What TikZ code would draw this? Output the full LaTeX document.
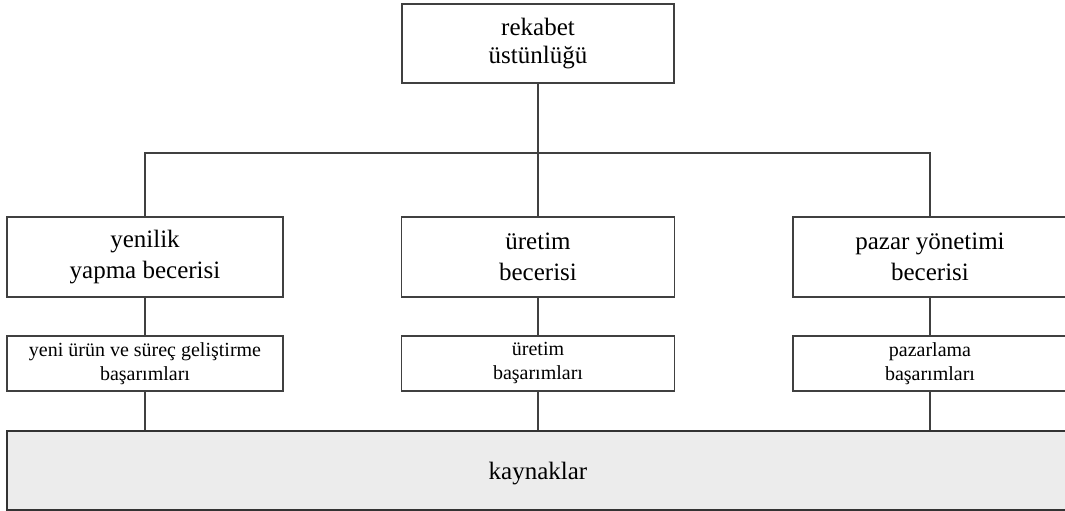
\documentclass[tikz,border=0pt]{standalone}
\usepackage{fontspec}
\setmainfont{Liberation Serif}
\usepackage{tikz}
\usetikzlibrary{positioning, calc}

\begin{document}
\begin{tikzpicture}[x=1pt, y=-1pt,
    line width=1.1pt, draw=black!75,
    bigbox/.style={draw=black!75, line width=1.1pt, minimum height=80pt, align=center,
        font=\fontsize{25}{31}\selectfont, execute at begin node={\rule{0pt}{26.5pt}}},
    smallbox/.style={draw=black!75, line width=1.1pt, minimum height=55pt, align=center,
        font=\fontsize{20}{24}\selectfont},
    basebox/.style={draw=black!80, line width=1.1pt, fill=gray!15, minimum height=79pt,
        font=\fontsize{25}{30}\selectfont, execute at begin node={\rule{0pt}{22.5pt}}}]
\useasboundingbox (0,0) rectangle (1065,511);

% Top
\node[bigbox, minimum width=272pt, minimum height=79pt, font=\fontsize{25}{28}\selectfont]
    (rekabet) at (538, 43.5) {rekabet\\üstünlüğü};

% Skills
\node[bigbox, minimum width=276pt] (yenilik) at (145, 257) {yenilik\\yapma becerisi};
\node[bigbox, minimum width=273pt] (uretim) at (538, 257) {üretim\\becerisi};
\node[bigbox, minimum width=274pt] (pazar) at (930, 257) {pazar yönetimi\\becerisi};

% Achievements
\node[smallbox, minimum width=276pt] (yenibas) at (145, 363.5) {yeni ürün ve süreç geliştirme\\başarımları};
\node[smallbox, minimum width=273pt] (uretbas) at (538, 363.5) {üretim\\başarımları};
\node[smallbox, minimum width=274pt] (pazbas) at (930, 363.5) {pazarlama\\başarımları};

% Resources
\node[basebox, minimum width=1062pt] (kaynak) at (538, 470.5) {kaynaklar};

% Connectors
\coordinate (bus) at (rekabet.south |- 0,153);
\draw (rekabet.south) -- (bus);
\draw (yenilik.north) |- (bus) -| (pazar.north);
\draw (bus) -- (bus |- uretim.north);
\draw (yenilik) -- (yenibas);
\draw (uretim) -- (uretbas);
\draw (pazar) -- (pazbas);
\draw (yenibas.south) -- (yenibas.south |- kaynak.north);
\draw (uretbas.south) -- (uretbas.south |- kaynak.north);
\draw (pazbas.south) -- (pazbas.south |- kaynak.north);
\end{tikzpicture}
\end{document}
